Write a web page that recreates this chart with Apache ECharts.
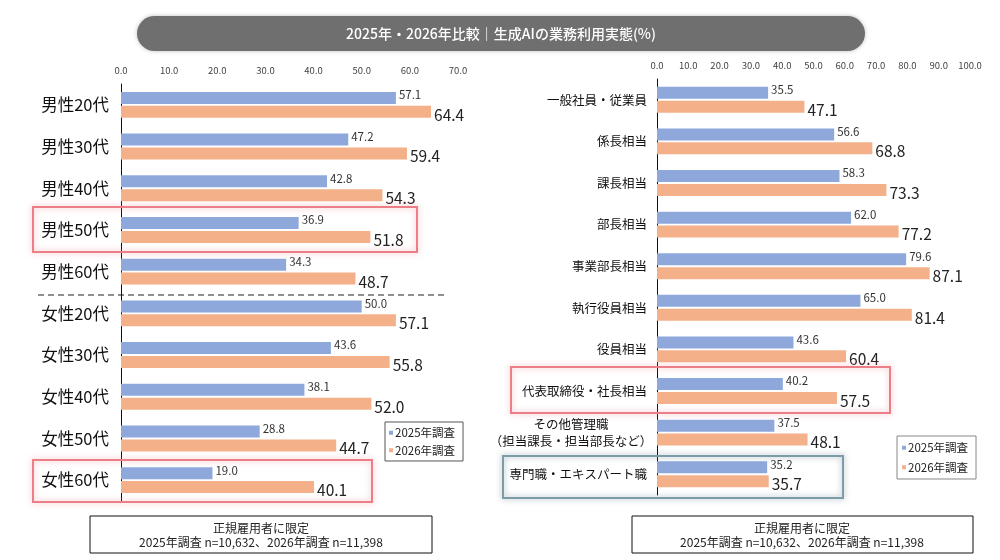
<!DOCTYPE html>
<html lang="ja">
<head>
    <meta charset="UTF-8">
    <title>生成AIの業務利用実態</title>
    <script src="https://cdn.jsdelivr.net/npm/echarts@6/dist/echarts.min.js"></script>
    <style>
        html, body { margin: 0; padding: 0; background: #fff; }
        #main { width: 1000px; height: 560px; }
    </style>
</head>
<body>
<div id="main"></div>
<script type="text/javascript">

    // 左：性別・年代
    var leftCats = ['男性20代', '男性30代', '男性40代', '男性50代', '男性60代', '女性20代', '女性30代', '女性40代', '女性50代', '女性60代']
    var left2025 = [57.1, 47.2, 42.8, 36.9, 34.3, 50.0, 43.6, 38.1, 28.8, 19.0]
    var left2026 = [64.4, 59.4, 54.3, 51.8, 48.7, 57.1, 55.8, 52.0, 44.7, 40.1]

    // 右：役職
    var rightCats = ['一般社員・従業員', '係長相当', '課長相当', '部長相当', '事業部長相当', '執行役員相当', '役員相当', '代表取締役・社長相当', 'その他管理職\n（担当課長・担当部長など）', '専門職・エキスパート職']
    var right2025 = [35.5, 56.6, 58.3, 62.0, 79.6, 65.0, 43.6, 40.2, 37.5, 35.2]
    var right2026 = [47.1, 68.8, 73.3, 77.2, 87.1, 81.4, 60.4, 57.5, 48.1, 35.7]

    var seriesNames = ['2025年調査', '2026年調査']
    var titleText = '2025年・2026年比較｜生成AIの業務利用実態(%)'
    var noteText = '正規雇用者に限定\n2025年調査 n=10,632、2026年調査 n=11,398'

    var FONT = '"Noto Sans CJK JP", "Noto Sans", sans-serif'
    var BLUE = '#8fa8dc'
    var ORANGE = '#f3b089'

    var myChart = echarts.init(document.getElementById('main'));

    function xAx(idx, max, interval) {
        return {
            gridIndex: idx, type: 'value', position: 'top', min: 0, max: max, interval: interval,
            axisLine: {show: false}, axisTick: {show: false}, splitLine: {show: false},
            axisLabel: {fontSize: 9.5, color: '#444', margin: 9, fontFamily: FONT,
                formatter: function (v) { return v.toFixed(1) }}
        }
    }

    function barPair(idx, d25, d26) {
        return [{
            name: seriesNames[0], type: 'bar', xAxisIndex: idx, yAxisIndex: idx, data: d25,
            barWidth: 12, barGap: '16%', itemStyle: {color: BLUE},
            label: {show: true, position: 'right', distance: 3, fontSize: 11.5, color: '#333', fontFamily: FONT,
                offset: [0, -3], formatter: function (p) { return p.value.toFixed(1) }}
        }, {
            name: seriesNames[1], type: 'bar', xAxisIndex: idx, yAxisIndex: idx, data: d26,
            barWidth: 12, itemStyle: {color: ORANGE},
            label: {show: true, position: 'right', distance: 3, fontSize: 15.5, color: '#222', fontFamily: FONT,
                offset: [0, 3], formatter: function (p) { return p.value.toFixed(1) }}
        }]
    }

    function box(x, y, w, h, color, shadow) {
        return {
            type: 'rect', shape: {x: x, y: y, width: w, height: h},
            style: {fill: 'none', stroke: color, lineWidth: 2, shadowBlur: 6, shadowColor: shadow}, z: 10
        }
    }

    var option = {
        animation: false,
        textStyle: {fontFamily: FONT},
        grid: [
            {left: 121, top: 84, width: 337, height: 417},
            {left: 657, top: 79, width: 313, height: 416}
        ],
        xAxis: [xAx(0, 70, 10), xAx(1, 100, 10)],
        yAxis: [{
            gridIndex: 0, type: 'category', inverse: true, data: leftCats,
            axisLine: {lineStyle: {color: '#111'}}, axisTick: {show: false},
            axisLabel: {fontSize: 16.5, color: '#111', margin: 12, fontFamily: FONT}
        }, {
            gridIndex: 1, type: 'category', inverse: true, data: rightCats,
            axisLine: {lineStyle: {color: '#111'}}, axisTick: {show: false},
            axisLabel: {
                fontSize: 12.5, color: '#111', margin: 10, fontFamily: FONT,
                formatter: function (v) {
                    if (v.indexOf('\n') < 0) return v
                    var parts = v.split('\n')
                    return '{c|' + parts[0] + '}\n{c|' + parts[1] + '}'
                },
                rich: {c: {width: 152, align: 'center', fontSize: 12.5, color: '#111', lineHeight: 17, fontFamily: FONT}}
            }
        }],
        legend: [{
            left: 385, top: 422, orient: 'vertical', data: seriesNames,
            itemWidth: 4, itemHeight: 4, itemGap: 6, icon: 'rect',
            borderColor: '#555', borderWidth: 1, padding: [5, 8, 5, 4],
            textStyle: {fontSize: 11.5, color: '#222', padding: [0, 0, 0, -3]}
        }, {
            left: 897, top: 436, orient: 'vertical', data: seriesNames,
            itemWidth: 4, itemHeight: 4, itemGap: 8, icon: 'rect',
            borderColor: '#888', borderWidth: 1, padding: [6, 8, 6, 5],
            textStyle: {fontSize: 11.5, color: '#222', padding: [0, 0, 0, -3]}
        }],
        series: barPair(0, left2025, left2026).concat(barPair(1, right2025, right2026)),
        graphic: [
            {
                type: 'rect', shape: {x: 137, y: 16, width: 728, height: 35, r: 17.5},
                style: {fill: '#6f6f6f', shadowBlur: 4, shadowColor: 'rgba(0,0,0,0.25)'}
            },
            {
                type: 'text', x: 501, y: 33.5,
                style: {text: titleText, fill: '#fff', fontSize: 14, fontWeight: 500, fontFamily: FONT,
                    align: 'center', verticalAlign: 'middle'}
            },
            {
                type: 'line', shape: {x1: 38, y1: 295, x2: 447, y2: 295},
                style: {stroke: '#222', lineWidth: 1.2, lineDash: [6, 4]}
            },
            box(33, 207, 384, 45, '#ec7e88', 'rgba(236,126,136,0.6)'),
            box(33, 460, 339, 42, '#ec7e88', 'rgba(236,126,136,0.6)'),
            box(511, 367, 379, 46, '#ec7e88', 'rgba(236,126,136,0.6)'),
            box(503, 456, 340, 42, '#7e9ba8', 'rgba(80,110,130,0.6)'),
            {
                type: 'rect', shape: {x: 90, y: 516, width: 342, height: 37},
                style: {fill: '#fff', stroke: '#111', lineWidth: 1}
            },
            {
                type: 'text', x: 261, y: 535,
                style: {text: noteText, fill: '#222', fontSize: 12, lineHeight: 14, fontFamily: FONT,
                    align: 'center', verticalAlign: 'middle'}
            },
            {
                type: 'rect', shape: {x: 632, y: 516, width: 341, height: 37},
                style: {fill: '#fff', stroke: '#111', lineWidth: 1}
            },
            {
                type: 'text', x: 802, y: 535,
                style: {text: noteText, fill: '#222', fontSize: 12, lineHeight: 14, fontFamily: FONT,
                    align: 'center', verticalAlign: 'middle'}
            }
        ]
    };

    myChart.setOption(option);

</script>
</body>
</html>
